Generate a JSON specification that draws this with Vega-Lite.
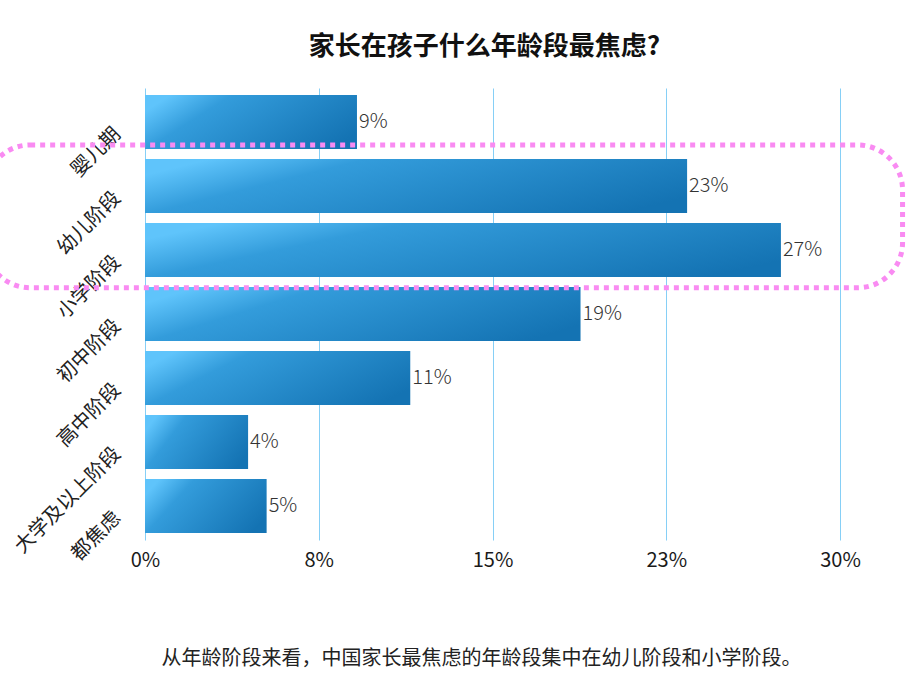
{
  "$schema": "https://vega.github.io/schema/vega-lite/v6.json",
  "autosize": {"type": "none"},
  "width": 695,
  "height": 452,
  "padding": {"left": 145, "top": 88, "right": 70, "bottom": 160},
  "background": "white",
  "config": {
    "font": "Noto Sans CJK SC",
    "view": {"stroke": null}
  },
  "title": {
    "text": "家长在孩子什么年龄段最焦虑?",
    "anchor": "middle",
    "frame": "group",
    "offset": 28,
    "dx": -8,
    "fontSize": 26,
    "fontWeight": "bold",
    "color": "#111111"
  },
  "layer": [
    {
      "data": {
        "values": [
          {"stage": "婴儿期", "pct": 9.15},
          {"stage": "幼儿阶段", "pct": 23.4},
          {"stage": "小学阶段", "pct": 27.45},
          {"stage": "初中阶段", "pct": 18.8},
          {"stage": "高中阶段", "pct": 11.45},
          {"stage": "大学及以上阶段", "pct": 4.45},
          {"stage": "都焦虑", "pct": 5.25}
        ]
      },
      "encoding": {
        "y": {
          "field": "stage",
          "type": "nominal",
          "sort": null,
          "scale": {"paddingInner": 0.156, "paddingOuter": 0.11},
          "axis": {
            "title": null,
            "domain": false,
            "ticks": false,
            "labelAngle": -45,
            "labelAlign": "right",
            "labelBaseline": "middle",
            "labelPadding": 28,
            "labelOffset": 9,
            "labelFontSize": 20,
            "labelColor": "#222222"
          }
        },
        "x": {
          "field": "pct",
          "type": "quantitative",
          "scale": {"domain": [0, 30], "nice": false},
          "axis": {
            "values": [0, 7.5, 15, 22.5, 30],
            "labelExpr": "round(datum.value) + '%'",
            "labelFlush": false,
            "grid": true,
            "gridColor": "#86cff6",
            "gridWidth": 1,
            "domain": false,
            "ticks": false,
            "labelFontSize": 20,
            "labelColor": "#1a1a1a",
            "labelPadding": 10,
            "title": "从年龄阶段来看，中国家长最焦虑的年龄段集中在幼儿阶段和小学阶段。",
            "titleFontSize": 20,
            "titleFontWeight": "normal",
            "titleColor": "#222222",
            "titleX": 336,
            "titleY": 118,
            "titleBaseline": "middle"
          }
        }
      },
      "layer": [
        {
          "mark": {
            "type": "bar",
            "color": {
              "gradient": "linear",
              "x1": 0, "y1": 0.3, "x2": 1, "y2": 0.7,
              "stops": [
                {"offset": 0, "color": "#5fc4fb"},
                {"offset": 0.25, "color": "#339cdb"},
                {"offset": 1, "color": "#1473b3"}
              ]
            }
          }
        },
        {
          "mark": {"type": "text", "align": "left", "baseline": "middle", "dx": 2, "fontSize": 20, "fontWeight": 300, "color": "#333333"},
          "transform": [{"calculate": "round(datum.pct) + '%'", "as": "label"}],
          "encoding": {"text": {"field": "label"}}
        }
      ]
    },
    {
      "data": {"values": [{"x0": -6.9, "x1": 32.7, "y0": 0.89, "y1": 3.12}]},
      "mark": {
        "type": "rect",
        "fill": null,
        "stroke": "#f98bf2",
        "strokeWidth": 5,
        "strokeDash": [5, 5],
        "cornerRadius": 45
      },
      "encoding": {
        "x": {"field": "x0", "type": "quantitative"},
        "x2": {"field": "x1"},
        "y": {"field": "y0", "type": "quantitative", "scale": {"domain": [0, 7.06], "reverse": true}, "axis": null},
        "y2": {"field": "y1"}
      }
    }
  ],
  "resolve": {"scale": {"y": "independent"}, "axis": {"y": "independent"}}
}
